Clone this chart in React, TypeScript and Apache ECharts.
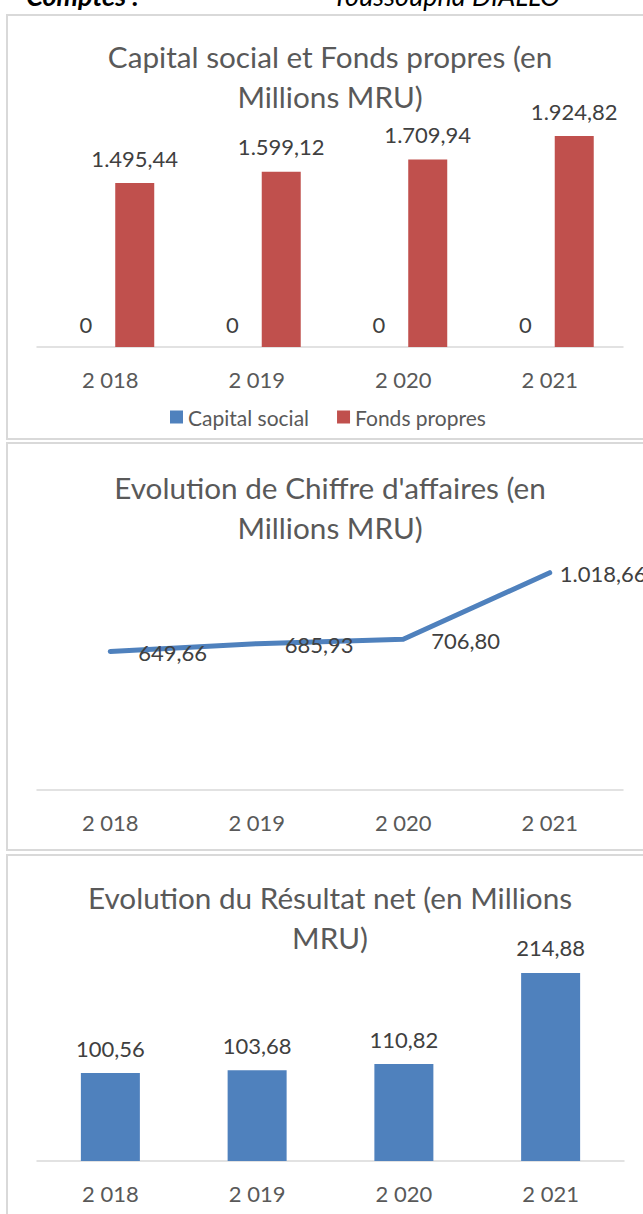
import React, { useEffect, useRef } from "react";
import * as echarts from "echarts";

const categories = ["2 018", "2 019", "2 020", "2 021"];
const capitalSocial = [0, 0, 0, 0];
const fondsPropres = [1495.44, 1599.12, 1709.94, 1924.82];
const chiffreAffaires = [649.66, 685.93, 706.8, 1018.66];
const resultatNet = [100.56, 103.68, 110.82, 214.88];
const titles = [
  "Capital social et Fonds propres (en\nMillions MRU)",
  "Evolution de Chiffre d'affaires (en\nMillions MRU)",
  "Evolution du Résultat net (en Millions\nMRU)",
];
const legendNames = ["Capital social", "Fonds propres"];
const headerLeft = "Comptes :";
const headerRight = "Youssoupha DIALLO";

const FONT = "Lato, 'Open Sans', sans-serif";
const BLUE = "#4f81bd";
const RED = "#c0504d";
const AXIS_GRAY = "#d9d9d9";
const TEXT_GRAY = "#595959";
const LABEL_DARK = "#404040";

function fmt(v: number): string {
  if (v === 0) return "0";
  const [i, d] = v.toFixed(2).split(".");
  const withDots = i.replace(/\B(?=(\d{3})+(?!\d))/g, ".");
  return withDots + "," + d;
}

const labelText = {
  fontFamily: FONT,
  fontSize: 22,
  lineHeight: 22,
  color: LABEL_DARK,
};

function xAxis(gridIndex: number) {
  return {
    type: "category",
    gridIndex,
    data: categories,
    axisTick: { show: false },
    axisLine: { lineStyle: { color: AXIS_GRAY, width: 1.5 } },
    axisLabel: {
      margin: 21,
      fontFamily: FONT,
      fontSize: 22,
      color: TEXT_GRAY,
    },
    splitLine: { show: false },
  };
}

function yAxis(gridIndex: number, max: number) {
  return {
    type: "value",
    gridIndex,
    min: 0,
    max,
    show: false,
    splitLine: { show: false },
  };
}

export default function App() {
  const ref = useRef<HTMLDivElement>(null);

  useEffect(() => {
    if (!ref.current) return;
    const chart = echarts.init(ref.current, null, { renderer: "svg" });

    const titleCommon = {
      left: 330,
      textAlign: "center",
      padding: 0,
      textStyle: {
        fontFamily: FONT,
        fontSize: 29.7,
        fontWeight: "normal",
        lineHeight: 40,
        color: TEXT_GRAY,
      },
    };

    const option: any = {
      animation: false,
      backgroundColor: "#ffffff",
      title: [
        { ...titleCommon, text: titles[0], top: 36 },
        { ...titleCommon, text: titles[1], top: 467 },
        { ...titleCommon, text: titles[2], top: 877 },
      ],
      legend: {
        data: legendNames,
        left: 170,
        top: 406,
        padding: 0,
        icon: "rect",
        itemWidth: 13,
        itemHeight: 13,
        itemGap: 28,
        textStyle: {
          fontFamily: FONT,
          fontSize: 21,
          lineHeight: 22,
          color: TEXT_GRAY,
        },
      },
      grid: [
        { left: 37, right: 20, top: 73, height: 274 },
        { left: 37, right: 20, top: 534, height: 256 },
        { left: 37, right: 19, top: 942.25, height: 218.75 },
      ],
      xAxis: [xAxis(0), xAxis(1), xAxis(2)],
      yAxis: [yAxis(0, 2500), yAxis(1, 1200), yAxis(2, 250)],
      series: [
        {
          name: legendNames[0],
          type: "bar",
          xAxisIndex: 0,
          yAxisIndex: 0,
          data: capitalSocial,
          barWidth: 39,
          barGap: "25.6%",
          itemStyle: { color: BLUE },
          label: {
            show: true,
            position: "top",
            distance: 12,
            formatter: (p: any) => fmt(p.value),
            ...labelText,
          },
        },
        {
          name: legendNames[1],
          type: "bar",
          xAxisIndex: 0,
          yAxisIndex: 0,
          data: fondsPropres,
          barWidth: 39,
          barGap: "25.6%",
          itemStyle: { color: RED },
          label: {
            show: true,
            position: "top",
            distance: 14,
            formatter: (p: any) => fmt(p.value),
            ...labelText,
          },
        },
        {
          name: "Chiffre d'affaires",
          type: "line",
          xAxisIndex: 1,
          yAxisIndex: 1,
          data: chiffreAffaires.map((v, i) =>
            i === chiffreAffaires.length - 1 ? { value: v, label: { distance: 9 } } : v
          ),
          symbol: "circle",
          symbolSize: 2,
          itemStyle: { color: BLUE },
          lineStyle: { color: BLUE, width: 5, cap: "round", join: "round" },
          label: {
            show: true,
            position: "right",
            distance: 27,
            offset: [0, 1],
            formatter: (p: any) => fmt(p.value),
            ...labelText,
          },
        },
        {
          name: "Résultat net",
          type: "bar",
          xAxisIndex: 2,
          yAxisIndex: 2,
          data: resultatNet,
          barWidth: 59,
          itemStyle: { color: BLUE },
          label: {
            show: true,
            position: "top",
            distance: 14,
            formatter: (p: any) => fmt(p.value),
            ...labelText,
          },
        },
      ],
      graphic: [
        {
          type: "rect",
          z: -1,
          shape: { x: 7, y: 15, width: 700, height: 424 },
          style: { fill: "none", stroke: AXIS_GRAY, lineWidth: 2 },
        },
        {
          type: "rect",
          z: -1,
          shape: { x: 7, y: 443, width: 700, height: 407 },
          style: { fill: "none", stroke: AXIS_GRAY, lineWidth: 2 },
        },
        {
          type: "rect",
          z: -1,
          shape: { x: 7, y: 855, width: 700, height: 500 },
          style: { fill: "none", stroke: AXIS_GRAY, lineWidth: 2 },
        },
        {
          type: "text",
          x: 139,
          y: 9,
          style: {
            text: headerLeft,
            textAlign: "right",
            textVerticalAlign: "bottom",
            font: "italic bold 27px " + FONT,
            fill: "#000000",
          },
        },
        {
          type: "text",
          x: 332,
          y: 9,
          style: {
            text: headerRight,
            textAlign: "left",
            textVerticalAlign: "bottom",
            font: "italic 27px " + FONT,
            fill: "#000000",
          },
        },
      ],
    };

    chart.setOption(option);
    return () => chart.dispose();
  }, []);

  return (
    <div
      ref={ref}
      style={{ position: "absolute", left: 0, top: 0, width: 643, height: 1214 }}
    />
  );
}
